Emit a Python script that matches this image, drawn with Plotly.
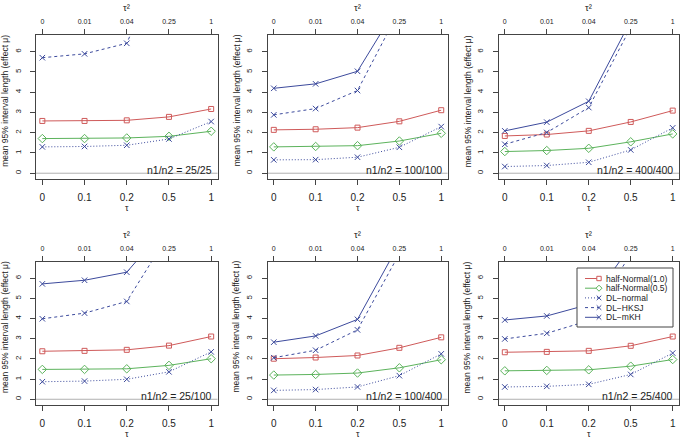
import plotly.graph_objects as go

# ---------------- data ----------------
panels = ["25/25", "100/100", "400/400", "25/100", "100/400", "25/400"]
tau_labels = ["0", "0.1", "0.2", "0.5", "1"]
tau2_labels = ["0", "0.01", "0.04", "0.25", "1"]

half_normal_10 = [
    [2.58, 2.58, 2.61, 2.78, 3.17],
    [2.14, 2.17, 2.25, 2.56, 3.11],
    [1.84, 1.91, 2.09, 2.53, 3.09],
    [2.38, 2.40, 2.45, 2.66, 3.11],
    [2.01, 2.07, 2.17, 2.55, 3.07],
    [2.33, 2.35, 2.40, 2.65, 3.11],
]
half_normal_05 = [
    [1.71, 1.71, 1.74, 1.82, 2.07],
    [1.30, 1.32, 1.36, 1.59, 1.97],
    [1.07, 1.12, 1.23, 1.55, 1.94],
    [1.48, 1.48, 1.51, 1.68, 2.01],
    [1.20, 1.23, 1.30, 1.56, 1.96],
    [1.41, 1.43, 1.46, 1.64, 1.97],
]
dl_normal = [
    [1.30, 1.32, 1.38, 1.69, 2.55],
    [0.66, 0.67, 0.79, 1.28, 2.30],
    [0.33, 0.38, 0.54, 1.15, 2.24],
    [0.87, 0.90, 0.99, 1.36, 2.35],
    [0.44, 0.48, 0.61, 1.17, 2.25],
    [0.61, 0.64, 0.74, 1.23, 2.29],
]
dl_hksj = [
    [5.70, 5.89, 6.41, 10.7, 16.0],
    [2.88, 3.19, 4.08, 7.9, 12.0],
    [1.43, 2.01, 3.24, 7.2, 11.0],
    [3.99, 4.27, 4.85, 8.2, 12.5],
    [2.06, 2.43, 3.44, 7.4, 11.0],
    [2.99, 3.27, 3.90, 7.0, 10.5],
]
dl_mkh = [
    [8.9, 9.2, 9.9, 14.5, 21.0],
    [4.19, 4.41, 5.03, 8.4, 12.5],
    [2.09, 2.52, 3.55, 7.5, 11.5],
    [5.72, 5.90, 6.30, 8.7, 13.0],
    [2.83, 3.14, 3.96, 7.6, 11.5],
    [3.93, 4.13, 4.70, 7.6, 11.5],
]
y_ticks = [0, 1, 2, 3, 4, 5, 6]

# ---------------- style ----------------
W, H = 682, 440
FONT = "Liberation Sans"
TXT = "#222222"
AX = "#444444"
RED = "#cf5a5a"
GREEN = "#5cb35c"
BLUE = "#3c4a9c"

series = [
    ("half-Normal(1.0)", half_normal_10, RED, "square-open", 5, "solid"),
    ("half-Normal(0.5)", half_normal_05, GREEN, "diamond-open", 6.5, "solid"),
    ("DL\u2212normal", dl_normal, BLUE, "x-thin-open", 5.5, "1px,2px"),
    ("DL\u2212HKSJ", dl_hksj, BLUE, "x-thin-open", 5.5, "3px,3px"),
    ("DL\u2212mKH", dl_mkh, BLUE, "x-thin-open", 5.5, "solid"),
]

col_px = [(36, 217.5), (267.5, 447.5), (498.5, 679)]
row_px = [(35, 178.5), (261.7, 404.5)]


def px(xp):
    return xp / W


def py(yp):
    return 1 - yp / H


def aid(n):
    return "" if n == 1 else str(n)


fig = go.Figure()
layout = dict(
    width=W, height=H,
    margin=dict(l=0, r=0, t=0, b=0),
    paper_bgcolor="white", plot_bgcolor="white",
    showlegend=False,
    font=dict(family=FONT, color=TXT),
)
annotations = []
shapes = []

XR = [-0.15, 4.15]
YR = [-0.26, 6.82]

for k in range(6):
    r, c = divmod(k, 3)
    x0p, x1p = col_px[c]
    y0p, y1p = row_px[r]
    xb = "x" + aid(k + 1)
    yb = "y" + aid(k + 1)
    xt = "x" + aid(k + 7)
    for name, data, color, sym, size, dash in series:
        fig.add_trace(go.Scatter(
            x=tau_labels, y=data[k], mode="lines+markers", name=name,
            line=dict(color=color, width=1, dash=dash),
            marker=dict(symbol=sym, size=size, color=color,
                        line=dict(color=color, width=1)),
            xaxis=xb, yaxis=yb, hoverinfo="skip", cliponaxis=True,
        ))
    # invisible trace to carry the top tau^2 axis
    fig.add_trace(go.Scatter(
        x=tau2_labels, y=[None] * 5, mode="markers", xaxis=xt, yaxis=yb,
        hoverinfo="skip", showlegend=False,
    ))
    common = dict(showline=True, linecolor=AX, linewidth=1, ticks="outside",
                  ticklen=5, tickcolor=AX, tickwidth=1, showgrid=False,
                  zeroline=False, fixedrange=True)
    layout["xaxis" + aid(k + 1)] = dict(
        domain=[px(x0p), px(x1p)], anchor=yb, type="category",
        range=XR, mirror=True, tickfont=dict(size=10, family=FONT, color=TXT),
        ticklabelstandoff=4, **common)
    layout["xaxis" + aid(k + 7)] = dict(
        overlaying=xb, anchor=yb, side="top", type="category", range=XR,
        tickfont=dict(size=7, family=FONT, color=TXT), ticklabelstandoff=2,
        **common)
    layout["yaxis" + aid(k + 1)] = dict(
        domain=[py(y1p), py(y0p)], anchor=xb, range=YR, mirror=True,
        tickvals=y_ticks, tickangle=-90,
        tickfont=dict(size=8, family=FONT, color=TXT), ticklabelstandoff=6,
        **common)
    # grey horizontal reference line at 0
    shapes.append(dict(type="line", xref=f"{xb} domain", x0=0, x1=1,
                       yref=yb, y0=0, y1=0,
                       line=dict(color="#b0b0b0", width=1), layer="below"))
    # panel label
    annotations.append(dict(
        text=f"n1/n2 = {panels[k]}", xref=f"{xb} domain", x=1, xanchor="right",
        xshift=-4, yref=f"{yb} domain", y=0, yanchor="bottom", yshift=1,
        showarrow=False, font=dict(size=10.5, family=FONT, color=TXT)))
    cx = (x0p + x1p) / 2
    annotations.append(dict(
        text="\u03c4", xref="paper", x=px(cx), yref="paper",
        y=py(y1p + 29.5), xanchor="center", yanchor="middle",
        showarrow=False, font=dict(size=9, family=FONT, color=TXT)))
    annotations.append(dict(
        text="\u03c4\u00b2", xref="paper", x=px(cx), yref="paper",
        y=py(y0p - 27.5), xanchor="center", yanchor="middle",
        showarrow=False, font=dict(size=9.5, family=FONT, color=TXT)))
    annotations.append(dict(
        text="mean 95% interval length (effect \u03bc)", textangle=-90,
        xref="paper", x=px(x0p - 31), yref="paper",
        y=py((y0p + y1p) / 2 - 6), xanchor="center", yanchor="middle",
        showarrow=False, font=dict(size=8.5, family=FONT, color=TXT)))

# ---------------- legend (drawn in panel 6) ----------------
lg_l, lg_r, lg_t, lg_b = 577, 673, 268, 327
shapes.append(dict(type="rect", xref="paper", yref="paper",
                   x0=px(lg_l), x1=px(lg_r), y0=py(lg_b), y1=py(lg_t),
                   fillcolor="white", line=dict(color=AX, width=1),
                   layer="above"))
for i, (name, data, color, sym, size, dash) in enumerate(series):
    yy = 278.5 + 9.7 * i
    shapes.append(dict(type="line", xref="paper", yref="paper",
                       x0=px(585), x1=px(599), y0=py(yy), y1=py(yy),
                       line=dict(color=color, width=1, dash=dash),
                       layer="above"))
    mx = 599
    if sym.startswith("square"):
        path = (f"M {px(mx-2.2)} {py(yy-2.2)} L {px(mx+2.2)} {py(yy-2.2)} "
                f"L {px(mx+2.2)} {py(yy+2.2)} L {px(mx-2.2)} {py(yy+2.2)} Z")
        shapes.append(dict(type="path", xref="paper", yref="paper", path=path,
                           fillcolor="white", line=dict(color=color, width=1),
                           layer="above"))
    elif sym.startswith("diamond"):
        path = (f"M {px(mx)} {py(yy-3)} L {px(mx+3)} {py(yy)} "
                f"L {px(mx)} {py(yy+3)} L {px(mx-3)} {py(yy)} Z")
        shapes.append(dict(type="path", xref="paper", yref="paper", path=path,
                           fillcolor="white", line=dict(color=color, width=1),
                           layer="above"))
    else:
        path = (f"M {px(mx-2.3)} {py(yy-2.3)} L {px(mx+2.3)} {py(yy+2.3)} "
                f"M {px(mx-2.3)} {py(yy+2.3)} L {px(mx+2.3)} {py(yy-2.3)}")
        shapes.append(dict(type="path", xref="paper", yref="paper", path=path,
                           line=dict(color=color, width=1), layer="above"))
    annotations.append(dict(
        text=name, xref="paper", yref="paper", x=px(604), y=py(yy),
        xanchor="left", yanchor="middle", showarrow=False,
        font=dict(size=8.5, family=FONT, color=TXT)))

layout["annotations"] = annotations
layout["shapes"] = shapes
fig.update_layout(**layout)
fig.write_html(
    "out.html",
    config={"displayModeBar": False, "staticPlot": True},
    post_script="document.body.style.margin='0';"
                "document.body.style.padding='0';"
                "document.body.style.overflow='hidden';",
)
